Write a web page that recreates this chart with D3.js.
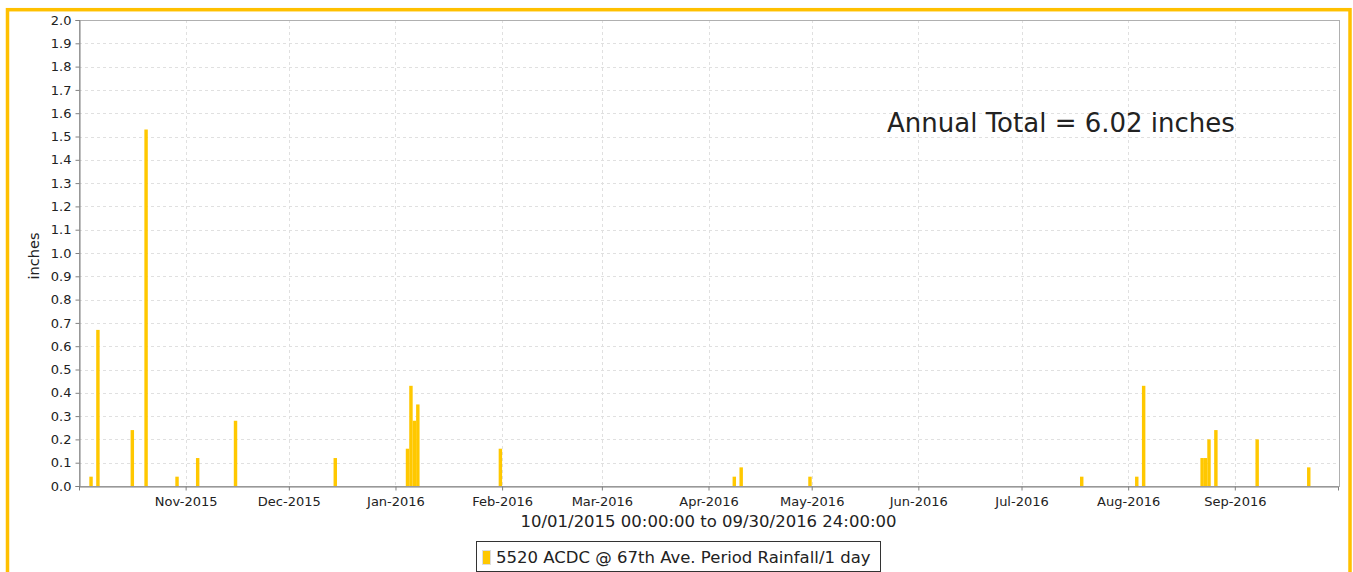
<!DOCTYPE html>
<html lang="en">
  <head>
    <meta charset="utf-8">
    <script src="https://cdn.jsdelivr.net/npm/d3@7"></script>
    <title>Period Rainfall 2015-2016</title>
    <style>
      body { margin: 0; background: #fff; }
      text { font-family: "DejaVu Sans", sans-serif; fill: #222; }
    </style>
  </head>
  <body>
    <script>

    // daily rainfall, inches
    var rainDates = ["2015-10-04", "2015-10-06", "2015-10-16", "2015-10-20", "2015-10-29",
      "2015-11-04", "2015-11-15", "2015-12-14", "2016-01-04", "2016-01-05", "2016-01-06",
      "2016-01-07", "2016-01-31", "2016-04-08", "2016-04-10", "2016-04-30", "2016-07-18",
      "2016-08-03", "2016-08-05", "2016-08-22", "2016-08-23", "2016-08-24", "2016-08-26",
      "2016-09-07", "2016-09-22"];
    var rainInches = [0.04, 0.67, 0.24, 1.53, 0.04,
      0.12, 0.28, 0.12, 0.16, 0.43, 0.28,
      0.35, 0.16, 0.04, 0.08, 0.04, 0.04,
      0.04, 0.43, 0.12, 0.12, 0.20, 0.24,
      0.20, 0.08];

    var tickDates = ["2015-11-01", "2015-12-01", "2016-01-01", "2016-02-01", "2016-03-01",
      "2016-04-01", "2016-05-01", "2016-06-01", "2016-07-01", "2016-08-01", "2016-09-01"];
    var tickLabels = ["Nov-2015", "Dec-2015", "Jan-2016", "Feb-2016", "Mar-2016", "Apr-2016",
      "May-2016", "Jun-2016", "Jul-2016", "Aug-2016", "Sep-2016"];
    var yTicks = d3.range(0, 21).map(function(i) { return i / 10; });

    var periodText = "10/01/2015 00:00:00 to 09/30/2016 24:00:00";
    var legendText = "5520 ACDC @ 67th Ave. Period Rainfall/1 day";
    var noteText = "Annual Total = 6.02 inches";

    var parse = d3.utcParse("%Y-%m-%d");
    var data = rainDates.map(function(d, i) {
      return {date: parse(d), value: rainInches[i]};
    });

    var W = 1353, H = 572;
    var plot = {left: 79, right: 1338, top: 20, bottom: 486};

    var x = d3.scaleUtc()
      .domain([parse("2015-10-01"), parse("2016-10-01")])
      .range([plot.left, plot.right]);

    var y = d3.scaleLinear()
      .domain([0, 2])
      .range([plot.bottom, plot.top]);

    var svg = d3.select("body").append("svg")
      .attr("width", W)
      .attr("height", H);

    // orange frame
    svg.append("rect")
      .attr("x", 7.5).attr("y", 9.7)
      .attr("width", 1342.5).attr("height", 620)
      .attr("fill", "none")
      .attr("stroke", "#ffc000")
      .attr("stroke-width", 3.5);

    // grid
    svg.append("g").selectAll("line")
      .data(yTicks.slice(1))
      .enter().append("line")
        .attr("x1", plot.left).attr("x2", plot.right)
        .attr("y1", function(d) { return Math.round(y(d)) + 0.5; })
        .attr("y2", function(d) { return Math.round(y(d)) + 0.5; })
        .attr("stroke", "#e0e0e0")
        .attr("stroke-dasharray", "3,3");

    svg.append("g").selectAll("line")
      .data(tickDates)
      .enter().append("line")
        .attr("x1", function(d) { return Math.round(x(parse(d))) + 0.5; })
        .attr("x2", function(d) { return Math.round(x(parse(d))) + 0.5; })
        .attr("y1", plot.top).attr("y2", plot.bottom)
        .attr("stroke", "#e0e0e0")
        .attr("stroke-dasharray", "3,3");

    // bars, one day wide
    svg.append("g").selectAll("rect")
      .data(data)
      .enter().append("rect")
        .attr("x", function(d) { return x(d.date); })
        .attr("width", function(d) { return x(d3.utcDay.offset(d.date, 1)) - x(d.date); })
        .attr("y", function(d) { return y(d.value); })
        .attr("height", function(d) { return y(0) - y(d.value); })
        .attr("fill", "#ffc800");

    // plot outline
    svg.append("rect")
      .attr("x", plot.left + 0.5).attr("y", plot.top + 0.5)
      .attr("width", plot.right - plot.left + 1).attr("height", plot.bottom - plot.top)
      .attr("fill", "none")
      .attr("stroke", "#b0b0b0");

    // axes
    var yAxis = d3.axisLeft(y)
      .tickValues(yTicks)
      .tickFormat(d3.format(".1f"))
      .tickSize(4)
      .tickPadding(4);

    var gy = svg.append("g")
      .attr("transform", "translate(" + (plot.left + 0.5) + ",0)")
      .call(yAxis);

    var xAxis = d3.axisBottom(x)
      .tickValues(tickDates.map(parse))
      .tickFormat(function(d, i) { return tickLabels[i]; })
      .tickSize(4)
      .tickPadding(6);

    var gx = svg.append("g")
      .attr("transform", "translate(0," + (plot.bottom + 0.5) + ")")
      .call(xAxis);

    [gx, gy].forEach(function(g) {
      g.select(".domain").attr("stroke", "#808080");
      g.selectAll(".tick line").attr("stroke", "#808080");
      g.selectAll(".tick text")
        .attr("font-family", "DejaVu Sans")
        .attr("font-size", 13)
        .attr("fill", "#333");
    });

    svg.append("text")
      .attr("transform", "translate(39,256) rotate(-90)")
      .attr("text-anchor", "middle")
      .attr("font-size", 14.5)
      .text("inches");

    svg.append("text")
      .attr("x", (plot.left + plot.right) / 2)
      .attr("y", 527)
      .attr("text-anchor", "middle")
      .attr("font-size", 16.5)
      .text(periodText);

    // legend
    var lg = svg.append("g");
    lg.append("rect")
      .attr("x", 476.5).attr("y", 541.5)
      .attr("width", 404).attr("height", 30)
      .attr("fill", "#fff")
      .attr("stroke", "#333");
    lg.append("rect")
      .attr("x", 482.5).attr("y", 550.5)
      .attr("width", 8).attr("height", 14)
      .attr("fill", "#ffc800")
      .attr("stroke", "#ddd");
    lg.append("text")
      .attr("x", 496).attr("y", 563)
      .attr("font-size", 16.5)
      .text(legendText);

    // annotation
    svg.append("text")
      .attr("x", 887).attr("y", 132)
      .attr("font-family", "Lato, 'Open Sans', sans-serif")
      .attr("font-size", 26)
      .attr("fill", "#000")
      .text(noteText);

    </script>
  </body>
</html>
